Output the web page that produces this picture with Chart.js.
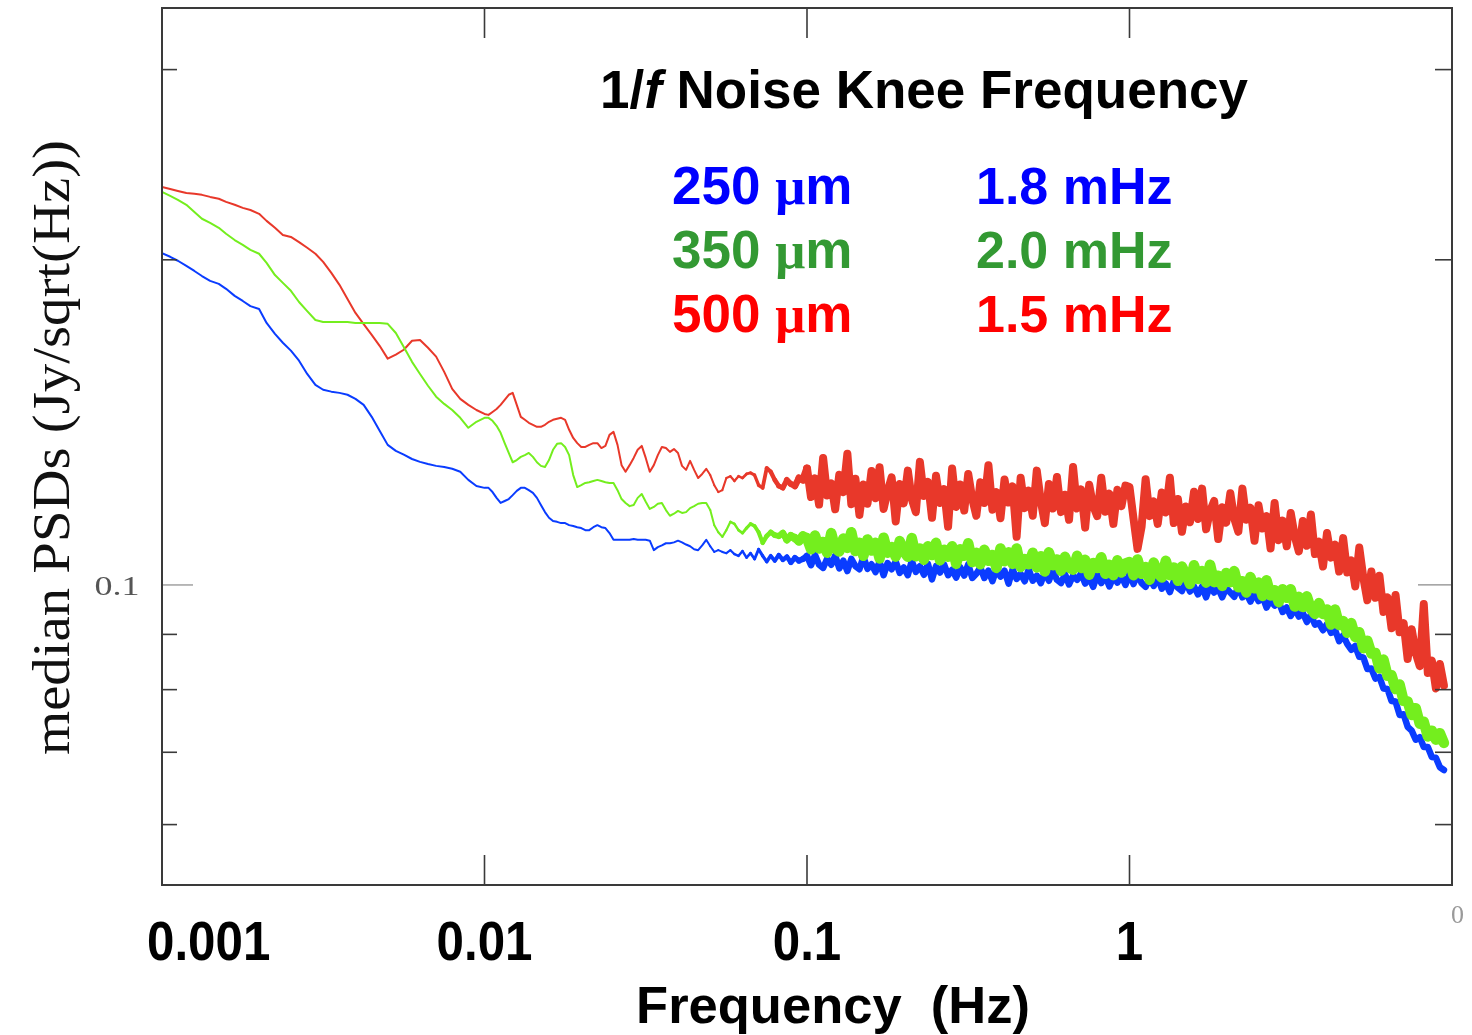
<!DOCTYPE html>
<html>
<head>
<meta charset="utf-8">
<title>1/f Noise Knee Frequency</title>
<script src="https://cdn.jsdelivr.net/npm/chart.js@4.4.1/dist/chart.umd.min.js"></script>
<style>
  html, body { margin: 0; padding: 0; background: #ffffff; overflow: hidden; }
  canvas { display: block; }
</style>
</head>
<body>
<canvas id="psd" width="1472" height="1035"></canvas>
<script>
// Frequency bins (Hz), shared by the three median PSDs
const freqHz = [
  0.001, 0.00106, 0.00112, 0.00119, 0.00126, 0.00133, 0.00141, 0.0015, 0.00158, 0.00168,
  0.00178, 0.00188, 0.002, 0.00211, 0.00224, 0.00237, 0.00251, 0.00266, 0.00282, 0.00299,
  0.00316, 0.00335, 0.00355, 0.00376, 0.00398, 0.00422, 0.00447, 0.00473, 0.00501, 0.00531,
  0.00562, 0.00596, 0.00631, 0.00668, 0.00708, 0.0075, 0.00794, 0.00841, 0.00891, 0.00944,
  0.01, 0.01029, 0.01059, 0.0109, 0.01122, 0.01155, 0.01189, 0.01223, 0.01259, 0.01296,
  0.01334, 0.01372, 0.01413, 0.01454, 0.01496, 0.0154, 0.01585, 0.01631, 0.01679, 0.01728,
  0.01778, 0.0183, 0.01884, 0.01939, 0.01995, 0.02054, 0.02113, 0.02175, 0.02239, 0.02304,
  0.02371, 0.02441, 0.02512, 0.02585, 0.02661, 0.02738, 0.02818, 0.02901, 0.02985, 0.03073,
  0.03162, 0.03255, 0.0335, 0.03447, 0.03548, 0.03652, 0.03758, 0.03868, 0.03981, 0.04097,
  0.04217, 0.0434, 0.04467, 0.04597, 0.04732, 0.0487, 0.05012, 0.05158, 0.05309, 0.05464,
  0.05623, 0.05788, 0.05957, 0.06131, 0.0631, 0.06494, 0.06683, 0.06879, 0.07079, 0.07286,
  0.07499, 0.07718, 0.07943, 0.08175, 0.08414, 0.0866, 0.08913, 0.09173, 0.09441, 0.09716,
  0.1, 0.1029, 0.1059, 0.109, 0.1122, 0.1155, 0.1189, 0.1223, 0.1259, 0.1296,
  0.1334, 0.1372, 0.1413, 0.1454, 0.1496, 0.154, 0.1585, 0.1631, 0.1679, 0.1728,
  0.1778, 0.183, 0.1884, 0.1939, 0.1995, 0.2054, 0.2113, 0.2175, 0.2239, 0.2304,
  0.2371, 0.2441, 0.2512, 0.2585, 0.2661, 0.2738, 0.2818, 0.2901, 0.2985, 0.3073,
  0.3162, 0.3255, 0.335, 0.3447, 0.3548, 0.3652, 0.3758, 0.3868, 0.3981, 0.4097,
  0.4217, 0.434, 0.4467, 0.4597, 0.4732, 0.487, 0.5012, 0.5158, 0.5309, 0.5464,
  0.5623, 0.5788, 0.5957, 0.6131, 0.631, 0.6494, 0.6683, 0.6879, 0.7079, 0.7286,
  0.7499, 0.7718, 0.7943, 0.8175, 0.8414, 0.866, 0.8913, 0.9173, 0.9441, 0.9716,
  1, 1.029, 1.059, 1.09, 1.122, 1.155, 1.189, 1.223, 1.259, 1.296,
  1.334, 1.372, 1.413, 1.454, 1.496, 1.54, 1.585, 1.631, 1.679, 1.728,
  1.778, 1.83, 1.884, 1.939, 1.995, 2.054, 2.113, 2.175, 2.239, 2.304,
  2.371, 2.441, 2.512, 2.585, 2.661, 2.738, 2.818, 2.901, 2.985, 3.073,
  3.162, 3.255, 3.35, 3.447, 3.548, 3.652, 3.758, 3.868, 3.981, 4.097,
  4.217, 4.34, 4.467, 4.597, 4.732, 4.87, 5.012, 5.158, 5.309, 5.464,
  5.623, 5.788, 5.957, 6.131, 6.31, 6.494, 6.683, 6.879, 7.079, 7.286,
  7.499, 7.718, 7.943, 8.175, 8.414, 8.66, 8.913, 9.173, 9.441
];

// Median PSD, 250 micron array (Jy/sqrt(Hz))
const psd250 = [
  .2028, .2013, .1996, .1974, .1953, .1932, .1912, .1900, .1880, .1852,
  .1832, .1812, .1801, .1748, .1708, .1676, .1648, .1613, .1568, .1532,
  .1516, .1510, .1506, .1500, .1487, .1468, .1431, .1389, .1348, .1331,
  .1320, .1308, .1300, .1294, .1289, .1286, .1281, .1273, .1251, .1235,
  .1230, .1230, .1219, .1204, .1191, .1196, .1201, .1211, .1222, .1230,
  .1230, .1224, .1217, .1204, .1186, .1168, .1154, .1146, .1144, .1141,
  .1141, .1136, .1134, .1131, .1129, .1124, .1124, .1131, .1136, .1131,
  .1129, .1117, .1101, .1101, .1101, .1101, .1101, .1103, .1101, .1101,
  .1101, .1099, .1077, .1084, .1088, .1093, .1093, .1095, .1099, .1095,
  .1090, .1086, .1079, .1077, .1088, .1101, .1086, .1073, .1077, .1073,
  .1070, .1077, .1068, .1064, .1075, .1060, .1070, .1057, .1079, .1064,
  .1051, .1064, .1053, .1066, .1055, .1062, .1049, .1060, .1053, .1057,
  .1064, .1043, .1066, .1044, .1037, .1058, .1044, .1065, .1036, .1053,
  .1030, .1057, .1041, .1034, .1062, .1035, .1045, .1028, .1051, .1021,
  .1048, .1034, .1051, .1026, .1038, .1021, .1053, .1028, .1041, .1022,
  .1046, .1012, .1041, .1027, .1045, .1021, .1033, .1016, .1039, .1020,
  .1045, .1015, .1024, .1038, .1015, .1031, .1008, .1034, .1018, .1031,
  .1003, .1034, .1013, .1024, .1008, .1034, .1009, .1020, .1004, .1028,
  .1009, .1031, .1011, .1004, .1023, .1001, .1020, .1011, .1025, .1003,
  .1015, .0996, .1022, .1004, .1019, .0997, .1017, .1005, .1020, .1000,
  .1024, .1002, .1023, .1004, .0996, .1014, .0998, .1017, .0992, .1003,
  .0985, .1008, .0994, .0987, .1007, .0986, .0997, .0980, .0997, .0974,
  .0999, .0984, .0993, .0974, .0994, .0984, .0975, .0996, .0974, .0982,
  .0965, .0983, .0966, .0976, .0953, .0968, .0957, .0965, .0944, .0953,
  .0936, .0951, .0935, .0942, .0924, .0939, .0919, .0922, .0908, .0920,
  .0903, .0909, .0887, .0898, .0882, .0871, .0878, .0858, .0857, .0836,
  .0837, .0819, .0822, .0802, .0801, .0781, .0780, .0758, .0759, .0739,
  .0733, .0719, .0723, .0708, .0708, .0693, .0692, .0678, .0674
];

// Median PSD, 350 micron array (Jy/sqrt(Hz))
const psd350 = [
  .2311, .2292, .2273, .2249, .2215, .2183, .2164, .2141, .2114, .2086,
  .2065, .2043, .2026, .1987, .1936, .1904, .1872, .1828, .1793, .1759,
  .1752, .1752, .1752, .1752, .1748, .1748, .1748, .1748, .1745, .1711,
  .1661, .1609, .1568, .1529, .1494, .1471, .1452, .1428, .1398, .1416,
  .1428, .1428, .1419, .1404, .1383, .1353, .1325, .1299, .1305, .1314,
  .1319, .1325, .1314, .1299, .1289, .1286, .1305, .1334, .1351, .1353,
  .1342, .1319, .1264, .1232, .1237, .1243, .1245, .1248, .1251, .1248,
  .1245, .1243, .1243, .1224, .1201, .1191, .1183, .1186, .1204, .1214,
  .1194, .1176, .1181, .1189, .1191, .1173, .1159, .1164, .1171, .1166,
  .1168, .1178, .1183, .1189, .1191, .1191, .1173, .1136, .1119, .1108,
  .1124, .1144, .1139, .1124, .1117, .1129, .1139, .1134, .1119, .1094,
  .1110, .1119, .1112, .1110, .1117, .1101, .1110, .1105, .1098, .1110,
  .1105, .1079, .1111, .1081, .1096, .1071, .1117, .1081, .1074, .1104,
  .1082, .1119, .1075, .1094, .1064, .1102, .1076, .1094, .1058, .1106,
  .1071, .1084, .1062, .1098, .1074, .1062, .1105, .1063, .1081, .1055,
  .1086, .1066, .1094, .1054, .1078, .1062, .1086, .1046, .1079, .1064,
  .1093, .1050, .1071, .1045, .1078, .1053, .1066, .1037, .1081, .1052,
  .1072, .1046, .1081, .1039, .1057, .1045, .1071, .1038, .1063, .1029,
  .1072, .1043, .1056, .1031, .1062, .1038, .1033, .1064, .1037, .1055,
  .1022, .1048, .1037, .1061, .1024, .1044, .1021, .1054, .1027, .1047,
  .1050, .1021, .1056, .1024, .1039, .1011, .1049, .1026, .1016, .1053,
  .1021, .1038, .1009, .1040, .1022, .1002, .1043, .1013, .1030, .1005,
  .1044, .1006, .1020, .0998, .1026, .1006, .1030, .0995, .1008, .0984,
  .1017, .0993, .1005, .0977, .1010, .0978, .0989, .0964, .0991, .0973,
  .0991, .0955, .0975, .0954, .0976, .0950, .0940, .0962, .0940, .0949,
  .0919, .0949, .0918, .0926, .0903, .0922, .0895, .0904, .0874, .0888,
  .0864, .0865, .0837, .0853, .0824, .0825, .0801, .0809, .0781, .0780,
  .0758, .0769, .0744, .0747, .0724, .0733, .0719, .0729, .0714
];

// Median PSD, 500 micron array (Jy/sqrt(Hz))
const psd500 = [
  .2336, .2326, .2316, .2306, .2302, .2297, .2287, .2278, .2263, .2249,
  .2234, .2224, .2206, .2173, .2141, .2109, .2100, .2077, .2052, .2026,
  .1991, .1945, .1896, .1840, .1786, .1744, .1704, .1665, .1620, .1634,
  .1651, .1683, .1686, .1658, .1627, .1575, .1519, .1487, .1468, .1452,
  .1440, .1437, .1446, .1455, .1468, .1484, .1500, .1506, .1468, .1431,
  .1422, .1413, .1407, .1401, .1401, .1407, .1416, .1422, .1425, .1428,
  .1422, .1392, .1368, .1353, .1342, .1342, .1348, .1353, .1353, .1339,
  .1345, .1377, .1386, .1348, .1291, .1273, .1291, .1311, .1334, .1345,
  .1311, .1273, .1291, .1319, .1342, .1339, .1328, .1336, .1325, .1289,
  .1278, .1303, .1278, .1256, .1267, .1281, .1264, .1237, .1219, .1224,
  .1256, .1261, .1248, .1261, .1256, .1267, .1270, .1264, .1237, .1230,
  .1283, .1273, .1251, .1235, .1230, .1251, .1240, .1235, .1256, .1251,
  .1282, .1206, .1255, .1187, .1311, .1210, .1242, .1175, .1265, .1219,
  .1323, .1188, .1254, .1161, .1239, .1189, .1275, .1203, .1285, .1176,
  .1221, .1258, .1145, .1240, .1190, .1276, .1201, .1168, .1300, .1209,
  .1246, .1154, .1262, .1191, .1227, .1132, .1282, .1181, .1239, .1172,
  .1267, .1201, .1159, .1245, .1191, .1291, .1174, .1219, .1153, .1252,
  .1192, .1234, .1108, .1257, .1178, .1223, .1159, .1276, .1196, .1141,
  .1240, .1177, .1259, .1168, .1212, .1149, .1286, .1177, .1226, .1130,
  .1238, .1183, .1158, .1257, .1169, .1215, .1139, .1225, .1183, .1236,
  .1232, .1152, .1080, .1132, .1253, .1158, .1195, .1139, .1218, .1167,
  .1257, .1141, .1201, .1120, .1182, .1143, .1220, .1151, .1228, .1126,
  .1171, .1196, .1103, .1180, .1142, .1216, .1152, .1120, .1228, .1149,
  .1179, .1099, .1185, .1128, .1158, .1081, .1191, .1100, .1147, .1086,
  .1166, .1109, .1074, .1146, .1087, .1162, .1068, .1097, .1040, .1117,
  .1060, .1090, .1029, .1105, .1027, .1054, .0997, .1083, .1016, .0968,
  .1029, .0973, .1020, .0944, .0974, .0912, .0979, .0904, .0922, .0854,
  .0910, .0865, .0841, .0960, .0829, .0851, .0802, .0845, .0807
];

// Axis ranges and ticks
const freqRange = [0.001, 10];
const psdRange = [0.05275, 0.3421];
const xTickValues = [0.001, 0.01, 0.1, 1, 10];
const xTickLabels = ['0.001', '0.01', '0.1', '1', '10'];
const yTickValues = [0.3, 0.2, 0.1, 0.09, 0.08, 0.07, 0.06];
const yTickLabels = ['', '', '0.1', '', '', '', ''];

// Knee-frequency annotation
const bandLabels = ['250', '350', '500'];
const kneeLabels = ['1.8 mHz', '2.0 mHz', '1.5 mHz'];
const bandColors = ['#0000FF', '#339933', '#FF0000'];

const SANS = "'Liberation Sans', Arial, Helvetica, sans-serif";
const SERIF = "'Liberation Serif', 'Times New Roman', serif";

// Draw a string, optionally stretched to a target width
function drawText(ctx, text, x, y, font, color, opts) {
  const o = Object.assign({ align: 'left', sx: 1, sy: 1, width: null }, opts || {});
  ctx.save();
  ctx.font = font;
  ctx.fillStyle = color;
  ctx.textAlign = 'left';
  ctx.textBaseline = 'alphabetic';
  const w = ctx.measureText(text).width;
  const kx = o.width ? o.width / w : o.sx;
  const left = o.align === 'center' ? x - w * kx / 2 : (o.align === 'right' ? x - w * kx : x);
  ctx.translate(left, y);
  ctx.scale(kx, o.sy);
  ctx.fillText(text, 0, 0);
  ctx.restore();
  return w * kx;
}

// Draw a run of differently styled pieces on one baseline
function drawRuns(ctx, runs, x, y, color) {
  let cx = x;
  runs.forEach(r => { cx += drawText(ctx, r.t, cx, y, r.f, color); });
  return cx - x;
}

function stroke(ctx, x0, y0, x1, y1, color, width) {
  ctx.beginPath();
  ctx.strokeStyle = color;
  ctx.lineWidth = width;
  ctx.moveTo(x0, y0);
  ctx.lineTo(x1, y1);
  ctx.stroke();
}

const framePlugin = {
  id: 'psdFrame',
  afterDatasetsDraw(chart) {
    const ctx = chart.ctx;
    const a = chart.chartArea;
    const xs = chart.scales.x, ys = chart.scales.y;
    ctx.save();

    // tick marks on all four sides, pointing inward
    xTickValues.forEach(v => {
      const px = xs.getPixelForValue(v);
      if (px <= a.left + 2 || px >= a.right - 2) return;
      stroke(ctx, px, a.bottom, px, a.bottom - 30, '#3a3a3a', 1.6);
      stroke(ctx, px, a.top, px, a.top + 30, '#3a3a3a', 1.6);
    });
    yTickValues.forEach((v, i) => {
      const py = ys.getPixelForValue(v);
      const labelled = yTickLabels[i] !== '';
      const col = labelled ? '#8a8a8a' : '#3a3a3a';
      const lw = labelled ? 1.2 : 1.6;
      stroke(ctx, a.left, py, a.left + (labelled ? 31 : 15), py, col, lw);
      stroke(ctx, a.right, py, a.right - (labelled ? 34 : 17), py, col, lw);
    });

    // plot frame
    ctx.strokeStyle = '#3a3a3a';
    ctx.lineWidth = 2;
    ctx.strokeRect(a.left, a.top, a.right - a.left, a.bottom - a.top);

    // y tick label
    yTickValues.forEach((v, i) => {
      if (!yTickLabels[i]) return;
      const py = ys.getPixelForValue(v);
      drawText(ctx, yTickLabels[i], a.left - 45, py + 10, '28px ' + SERIF, '#555555', { align: 'center', width: 45 });
    });

    // x tick labels
    xTickValues.forEach((v, i) => {
      const px = xs.getPixelForValue(v);
      if (v >= freqRange[1]) {
        // far-right label, cut by the page edge
        ctx.save();
        ctx.beginPath();
        ctx.rect(a.right - 1, a.bottom + 5, 60, 45);
        ctx.clip();
        drawText(ctx, xTickLabels[i], px - 1, a.bottom + 38, '26px ' + SERIF, '#9a9a9a', { align: 'center' });
        ctx.restore();
        return;
      }
      ctx.save();
      ctx.font = 'bold 56px ' + SANS;
      const w = ctx.measureText(xTickLabels[i]).width * 0.88;
      ctx.restore();
      const cx = Math.max(px, a.left - 15 + w / 2);
      drawText(ctx, xTickLabels[i], cx, a.bottom + 75, 'bold 56px ' + SANS, '#000000', { align: 'center', sx: 0.88 });
    });

    // x axis title
    drawText(ctx, 'Frequency  (Hz)', (a.left + a.right) / 2 + 26, a.bottom + 138, 'bold 52.5px ' + SANS, '#000000', { align: 'center' });

    // y axis title (rotated)
    ctx.save();
    ctx.translate(69, (a.top + a.bottom) / 2 + 1);
    ctx.rotate(-Math.PI / 2);
    drawText(ctx, 'median PSDs (Jy/sqrt(Hz))', 0, 0, '53px ' + SERIF, '#111111', { align: 'center', width: 615 });
    ctx.restore();

    // annotation block
    const tx = a.left + 438;
    drawRuns(ctx, [
      { t: '1/', f: 'bold 53px ' + SANS },
      { t: 'f', f: 'italic bold 53px ' + SANS },
      { t: ' Noise Knee Frequency', f: 'bold 53px ' + SANS }
    ], tx, 108, '#000000');

    bandLabels.forEach((b, i) => {
      const base = 204 + i * 64;
      drawRuns(ctx, [
        { t: b + ' ', f: 'bold 53px ' + SANS },
        { t: '\u03BC', f: 'bold 53px ' + SERIF },
        { t: 'm', f: 'bold 53px ' + SANS }
      ], a.left + 510, base, bandColors[i]);
      drawText(ctx, kneeLabels[i], a.left + 814, base, 'bold 52px ' + SANS, bandColors[i]);
    });

    ctx.restore();
  }
};

function toPoints(values) {
  return freqHz.map((f, i) => ({ x: f, y: values[i] }));
}

// thin lines in the 1/f part, growing to heavy strokes where the spectrum is densely sampled
function strokeWidth(dense) {
  return c => {
    const f = c.p0.parsed.x;
    const t = Math.min(1, Math.max(0, Math.log10(f / 0.05) / Math.log10(2)));
    return 2 + (dense - 2) * t * t;
  };
}

const series = [
  { label: '350 \u03BCm', values: psd350, color: '#74EE1E', order: 0, dense: 10.5 },
  { label: '250 \u03BCm', values: psd250, color: '#0A3CFF', order: 1, dense: 6.5 },
  { label: '500 \u03BCm', values: psd500, color: '#E8382A', order: 2, dense: 8 }
];

new Chart(document.getElementById('psd'), {
  type: 'line',
  data: {
    datasets: series.map(s => ({
      label: s.label,
      data: toPoints(s.values),
      borderColor: s.color,
      backgroundColor: s.color,
      borderWidth: 2,
      borderJoinStyle: 'round',
      borderCapStyle: 'round',
      pointRadius: 0,
      tension: 0,
      fill: false,
      order: s.order,
      segment: { borderWidth: strokeWidth(s.dense) }
    }))
  },
  options: {
    responsive: false,
    devicePixelRatio: 1,
    animation: false,
    events: [],
    layout: { padding: { left: 162, right: 20, top: 8, bottom: 150 } },
    scales: {
      x: { type: 'logarithmic', min: freqRange[0], max: freqRange[1], display: false },
      y: { type: 'logarithmic', min: psdRange[0], max: psdRange[1], display: false }
    },
    plugins: {
      legend: { display: false },
      tooltip: { enabled: false }
    }
  },
  plugins: [framePlugin]
});
</script>
</body>
</html>
